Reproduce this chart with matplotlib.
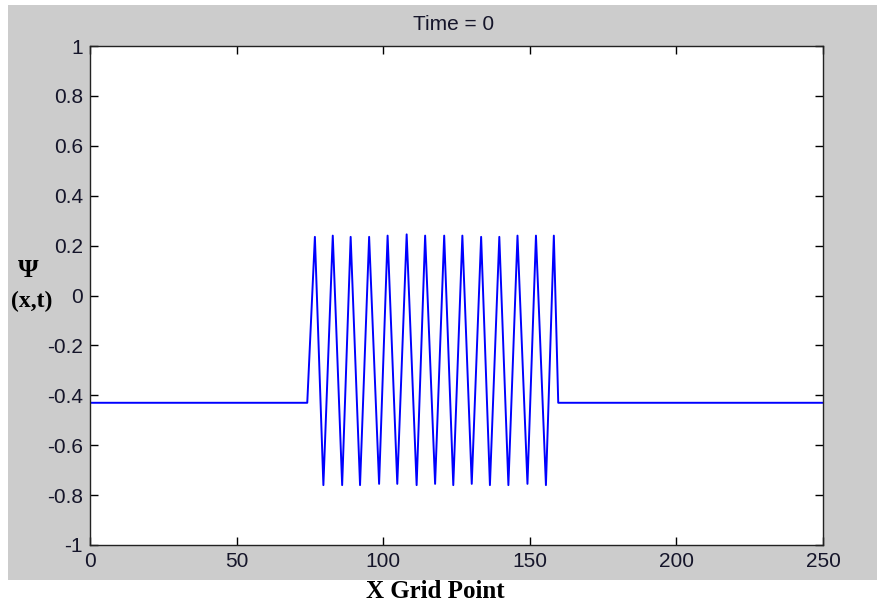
import numpy as np
import matplotlib
matplotlib.use('Agg')
import matplotlib.pyplot as plt
from matplotlib.patches import Rectangle

# valores
flat_level = -0.43
flat_x = [0, 74.1, 159.7, 250]
peak_x = [76.7, 82.8, 88.9, 95.2, 101.5, 108.0, 114.3, 120.8, 127.0, 133.4, 139.6, 145.8, 152.1, 158.2]
peak_y = [0.235, 0.24, 0.235, 0.235, 0.24, 0.245, 0.24, 0.24, 0.24, 0.235, 0.235, 0.24, 0.24, 0.24]
trough_x = [79.6, 86.0, 92.1, 98.6, 104.8, 111.4, 117.7, 123.9, 130.2, 136.4, 142.7, 149.2, 155.5]
trough_y = [-0.76, -0.76, -0.76, -0.755, -0.755, -0.76, -0.755, -0.76, -0.755, -0.76, -0.76, -0.755, -0.76]
xticks = [0, 50, 100, 150, 200, 250]
yticks = [-1, -0.8, -0.6, -0.4, -0.2, 0, 0.2, 0.4, 0.6, 0.8, 1]

x = np.concatenate([flat_x, peak_x, trough_x])
y = np.concatenate([[flat_level] * len(flat_x), peak_y, trough_y])
orden = np.argsort(x)
x, y = x[orden], y[orden]

fig = plt.figure(figsize=(8.77, 6.08), dpi=100, facecolor='white')
# fondo gris estilo matlab
fig.patches.append(Rectangle((8 / 877, 1 - 580 / 608), 1 - 8 / 877, (580 - 5) / 608,
                             transform=fig.transFigure, facecolor='#cccccc',
                             edgecolor='none', zorder=-5))

ax = fig.add_axes([90 / 877, 1 - 545 / 608, (823 - 90) / 877, (545 - 46) / 608])
ax.set_zorder(2)
ax.plot(x, y, color='#0000ff', lw=1.4)

ax.set_xlim(0, 250)
ax.set_ylim(-1, 1)
ax.set_xticks(xticks)
ax.set_yticks(yticks)
ax.set_yticklabels(['%g' % v for v in yticks])
ax.tick_params(direction='in', top=True, right=True, length=6, width=1,
               labelsize=15, pad=5, labelcolor='#15152a')
for lab in ax.get_xticklabels() + ax.get_yticklabels():
    lab.set_fontfamily('Liberation Sans')
for s in ax.spines.values():
    s.set_linewidth(1)
    s.set_color('#222222')

fig.text(454 / 877, 1 - 30 / 608, 'Time = 0', ha='center', va='baseline',
         fontsize=15, family='Liberation Sans', color='#15152a')

fig.text(28 / 877, 1 - 277 / 608, 'Ψ', ha='center', va='baseline',
         fontsize=19, family='Liberation Serif', fontweight='bold')
fig.text(32 / 877, 1 - 301 / 608, '(x,t)', ha='center', va='center',
         fontsize=17, family='Liberation Serif', fontweight='bold')
fig.text(435 / 877, 1 - 598 / 608, 'X Grid Point', ha='center', va='baseline',
         fontsize=18, family='Liberation Serif', fontweight='bold')

fig.savefig('out.png', dpi=100, facecolor='white')
